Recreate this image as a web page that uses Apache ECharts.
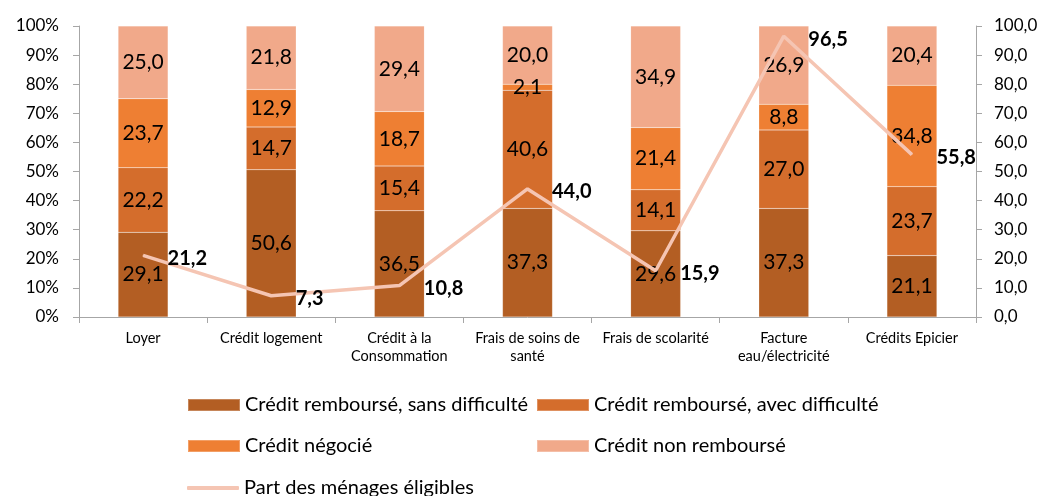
<!DOCTYPE html>
<html>
<head>
<meta charset="utf-8">
<script src="https://cdn.jsdelivr.net/npm/echarts@6/dist/echarts.min.js"></script>
<style>
  html, body { margin: 0; padding: 0; background: #fff; }
  #chart { width: 1045px; height: 496px; }
</style>
</head>
<body>
<div id="chart"></div>
<script>
// Categories of household credit
const categories = ['Loyer', 'Crédit logement', 'Crédit à la\nConsommation', 'Frais de soins de\nsanté', 'Frais de scolarité', 'Facture\neau/électricité', 'Crédits Epicier'];

// Repayment outcome shares (%)
const sansDifficulte = [29.1, 50.6, 36.5, 37.3, 29.6, 37.3, 21.1];
const avecDifficulte = [22.2, 14.7, 15.4, 40.6, 14.1, 27.0, 23.7];
const negocie = [23.7, 12.9, 18.7, 2.1, 21.4, 8.8, 34.8];
const nonRembourse = [25.0, 21.8, 29.4, 20.0, 34.9, 26.9, 20.4];

// Share of eligible households (right axis)
const partEligibles = [21.2, 7.3, 10.8, 44.0, 15.9, 96.5, 55.8];

const seriesNames = ['Crédit remboursé, sans difficulté', 'Crédit remboursé, avec difficulté', 'Crédit négocié', 'Crédit non remboursé', 'Part des ménages éligibles'];
const colors = ['#B35E23', '#D46D2C', '#EE7F33', '#F1A98A', '#F5C5B3'];

const FONT = 'Lato';
const fmt = v => v.toFixed(1).replace('.', ',');

function barSeries(name, data, color) {
  return {
    name: name,
    type: 'bar',
    stack: 'total',
    barWidth: '39%',
    data: data,
    itemStyle: { color: color, borderColor: 'rgba(255,255,255,0.25)', borderWidth: 0.5 },
    label: {
      show: true,
      position: 'inside',
      color: '#000',
      fontFamily: FONT,
      fontSize: 21,
      formatter: p => fmt(p.value)
    }
  };
}

function legendAt(name, left, top, isLine) {
  return {
    data: [name],
    left: left,
    top: top,
    orient: 'horizontal',
    itemWidth: 52,
    itemHeight: isLine ? 4 : 12,
    icon: isLine ? 'roundRect' : 'rect',
    itemGap: 0,
    selectedMode: false,
    textStyle: { fontFamily: FONT, fontSize: 20, color: '#000' }
  };
}

const chart = echarts.init(document.getElementById('chart'), null, { renderer: 'canvas' });

chart.setOption({
  animation: false,
  color: colors,
  grid: { left: 79, right: 69, top: 26, bottom: 179, containLabel: false },
  legend: [
    legendAt(seriesNames[0], 182, 390, false),
    legendAt(seriesNames[1], 531, 390, false),
    legendAt(seriesNames[2], 182, 431, false),
    legendAt(seriesNames[3], 531, 431, false),
    legendAt(seriesNames[4], 182, 473, true)
  ],
  xAxis: {
    type: 'category',
    data: categories,
    axisLine: { lineStyle: { color: '#A6A6A6', width: 1 } },
    axisTick: { show: true, length: 6, lineStyle: { color: '#A6A6A6' } },
    axisLabel: { color: '#000', fontFamily: FONT, fontSize: 14.5, lineHeight: 18, margin: 12, interval: 0 }
  },
  yAxis: [
    {
      type: 'value',
      min: 0,
      max: 100,
      interval: 10,
      splitLine: { show: false },
      axisLine: { show: true, lineStyle: { color: '#A6A6A6' } },
      axisTick: { show: true, length: 6, lineStyle: { color: '#A6A6A6' } },
      axisLabel: { color: '#000', fontFamily: FONT, fontSize: 17, margin: 20, formatter: '{value}%' }
    },
    {
      type: 'value',
      min: 0,
      max: 100,
      interval: 10,
      position: 'right',
      splitLine: { show: false },
      axisLine: { show: true, lineStyle: { color: '#A6A6A6' } },
      axisTick: { show: true, length: 6, lineStyle: { color: '#A6A6A6' } },
      axisLabel: { color: '#000', fontFamily: FONT, fontSize: 17, margin: 18, formatter: v => fmt(v) }
    }
  ],
  series: [
    barSeries(seriesNames[0], sansDifficulte, colors[0]),
    barSeries(seriesNames[1], avecDifficulte, colors[1]),
    barSeries(seriesNames[2], negocie, colors[2]),
    barSeries(seriesNames[3], nonRembourse, colors[3]),
    {
      name: seriesNames[4],
      type: 'line',
      yAxisIndex: 1,
      z: 5,
      data: partEligibles,
      symbol: 'circle',
      symbolSize: 1,
      showSymbol: true,
      lineStyle: { color: colors[4], width: 3.5 },
      itemStyle: { color: colors[4] },
      label: {
        show: true,
        position: 'right',
        distance: 24,
        offset: [0, 3],
        color: '#000',
        fontFamily: FONT,
        fontWeight: 'bold',
        fontSize: 20,
        formatter: p => fmt(p.value)
      }
    }
  ]
});
</script>
</body>
</html>
